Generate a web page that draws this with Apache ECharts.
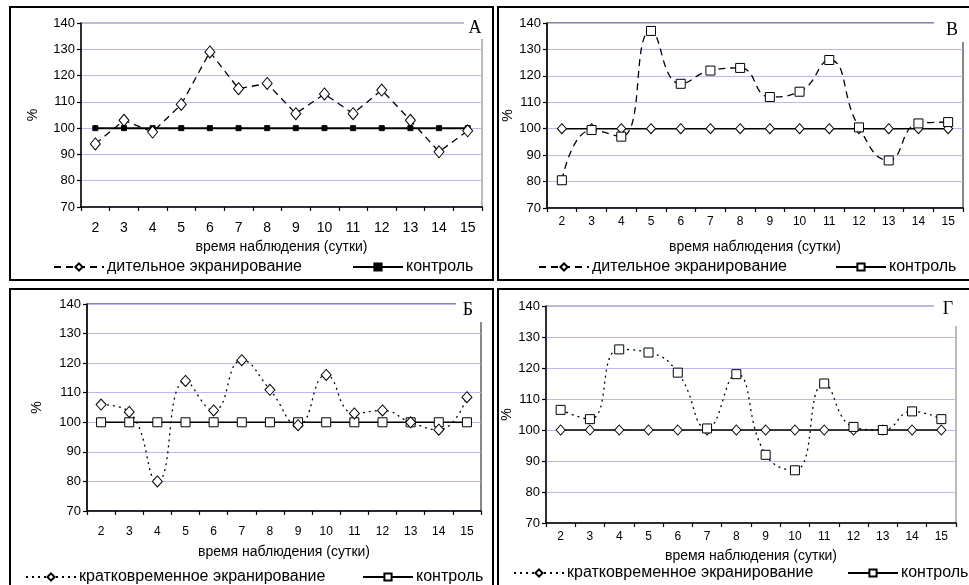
<!DOCTYPE html>
<html>
<head>
<meta charset="utf-8">
<script src="https://cdn.jsdelivr.net/npm/echarts@6/dist/echarts.min.js"></script>
<style>
  html, body { margin: 0; padding: 0; background: #fff; }
  #chart { width: 969px; height: 585px; }
</style>
</head>
<body>
<div id="chart"></div>
<script>
// Observation days (x axis categories)
const days = ['2', '3', '4', '5', '6', '7', '8', '9', '10', '11', '12', '13', '14', '15'];
const yTicks = [70, 80, 90, 100, 110, 120, 130, 140];

// Panel А: long screening vs control, %
const longA = [94, 103, 98.5, 109, 129, 115, 117, 105.5, 113, 105.5, 114.5, 103, 91, 99];
const ctrlA = [100, 100, 100, 100, 100, 100, 100, 100, 100, 100, 100, 100, 100, 100];

// Panel В: long screening vs control, %
const longV = [80.5, 99.5, 97, 137, 117, 122, 123, 112, 114, 126, 100.5, 88, 102, 102.5];
const ctrlV = [100, 100, 100, 100, 100, 100, 100, 100, 100, 100, 100, 100, 100, 100];

// Panel Б: short screening vs control, %
const shortB = [106, 103.5, 80, 114, 104, 121, 111, 99, 116, 103, 104, 100, 97.5, 108.5];
const ctrlB = [100, 100, 100, 100, 100, 100, 100, 100, 100, 100, 100, 100, 100, 100];

// Panel Г: short screening vs control, %
const shortG = [106.5, 103.5, 126, 125, 118.5, 100.5, 118, 92, 87, 115, 101, 100, 106, 103.5];
const ctrlG = [100, 100, 100, 100, 100, 100, 100, 100, 100, 100, 100, 100, 100, 100];

const LONG_TEXT = 'дительное экранирование';
const SHORT_TEXT = 'кратковременное экранирование';
const CTRL_TEXT = 'контроль';
const AXIS_TEXT = 'время наблюдения (сутки)';

const FONT = '"Liberation Sans", Arial, sans-serif';
const GRID_LINE = '#b9b9f2';

// Legend keys -> displayed text
const legendText = {
  A_exp: LONG_TEXT, A_ctl: CTRL_TEXT,
  V_key_exp: LONG_TEXT, V_key_ctl: CTRL_TEXT,
  B_exp: SHORT_TEXT, B_ctl: CTRL_TEXT,
  G_key_exp: SHORT_TEXT, G_key_ctl: CTRL_TEXT
};

const panels = [
  { grid: { left: 81, top: 23, width: 401, height: 184 }, borderColor: '#777',
    xFont: 14, xMargin: 14, xNameGap: 33, yNameGap: 41,
    box: [10, 7, 483, 273], letter: 'А', corner: [464, 14, 22, 25], letterPos: [475, 28] },
  { grid: { left: 547, top: 23, width: 416, height: 185 }, borderColor: '#111',
    xFont: 12, xMargin: 8, xNameGap: 32, yNameGap: 25,
    box: [498, 7, 475, 273], letter: 'В', corner: [934, 14, 32, 28], letterPos: [952, 30] },
  { grid: { left: 87, top: 304, width: 394, height: 207 }, borderColor: '#111',
    xFont: 12, xMargin: 15, xNameGap: 34, yNameGap: 43,
    box: [10, 289, 483, 310], letter: 'Б', corner: [456, 295, 28, 27], letterPos: [468, 310] },
  { grid: { left: 546, top: 306, width: 410, height: 217 }, borderColor: '#777',
    xFont: 12, xMargin: 8, xNameGap: 26, yNameGap: 22,
    box: [498, 289, 475, 310], letter: 'Г', corner: [934, 296, 24, 30], letterPos: [948, 309] }
];

const hollow = { color: '#fff', borderColor: '#000', borderWidth: 1 };
const filled = { color: '#000', borderColor: '#000', borderWidth: 1 };

function lineSeries(name, idx, data, opts) {
  return Object.assign({
    name: name,
    type: 'line',
    xAxisIndex: idx,
    yAxisIndex: idx,
    data: data,
    showSymbol: true,
    animation: false,
    silent: true
  }, opts);
}

const series = [
  // А
  lineSeries('A_ctl', 0, ctrlA, { symbol: 'rect', symbolSize: 5, itemStyle: filled,
    lineStyle: { color: '#000', width: 2 } }),
  lineSeries('A_exp', 0, longA, { symbol: 'diamond', symbolSize: [10, 12], itemStyle: hollow,
    lineStyle: { color: '#000', width: 1.3, type: [7, 5] }, z: 3 }),
  // В
  lineSeries('V_ctl', 1, ctrlV, { symbol: 'diamond', symbolSize: [9, 10], itemStyle: hollow,
    lineStyle: { color: '#000', width: 1.6 } }),
  lineSeries('V_exp', 1, longV, { symbol: 'rect', symbolSize: 9, itemStyle: hollow, smooth: 0.5,
    lineStyle: { color: '#000', width: 1.3, type: [7, 5] }, z: 3 }),
  lineSeries('V_key_exp', 1, [], { symbol: 'diamond', itemStyle: hollow,
    lineStyle: { color: '#000', width: 1.3, type: [7, 5] } }),
  lineSeries('V_key_ctl', 1, [], { symbol: 'rect', itemStyle: hollow,
    lineStyle: { color: '#000', width: 1.6 } }),
  // Б
  lineSeries('B_ctl', 2, ctrlB, { symbol: 'rect', symbolSize: 9, itemStyle: hollow,
    lineStyle: { color: '#000', width: 1.6 } }),
  lineSeries('B_exp', 2, shortB, { symbol: 'diamond', symbolSize: [10, 11], itemStyle: hollow, smooth: 0.5,
    lineStyle: { color: '#000', width: 1.3, type: [2, 4] }, z: 3 }),
  // Г
  lineSeries('G_ctl', 3, ctrlG, { symbol: 'diamond', symbolSize: [9, 10], itemStyle: hollow,
    lineStyle: { color: '#000', width: 1.6 } }),
  lineSeries('G_exp', 3, shortG, { symbol: 'rect', symbolSize: 9, itemStyle: hollow, smooth: 0.5,
    lineStyle: { color: '#000', width: 1.3, type: [2, 4] }, z: 3 }),
  lineSeries('G_key_exp', 3, [], { symbol: 'diamond', itemStyle: hollow,
    lineStyle: { color: '#000', width: 1.3, type: [2, 4] } }),
  lineSeries('G_key_ctl', 3, [], { symbol: 'rect', itemStyle: hollow,
    lineStyle: { color: '#000', width: 1.6 } })
];

function legendItem(key, left, top) {
  return {
    data: [key],
    left: left,
    top: top,
    itemWidth: 50,
    itemHeight: 9,
    padding: 0,
    selectedMode: false,
    formatter: function (n) { return legendText[n]; },
    textStyle: { fontSize: 16, fontFamily: FONT, color: '#000', padding: [0, 0, 0, -2] }
  };
}

const legends = [
  legendItem('A_exp', 53, 259), legendItem('A_ctl', 352, 259),
  legendItem('V_key_exp', 538, 259), legendItem('V_key_ctl', 835, 259),
  legendItem('B_exp', 25, 569), legendItem('B_ctl', 362, 569),
  legendItem('G_key_exp', 513, 565), legendItem('G_key_ctl', 847, 565)
];

const grids = panels.map(p => Object.assign({
  show: true, borderColor: p.borderColor, borderWidth: 1, backgroundColor: 'transparent'
}, p.grid));

const xAxes = panels.map((p, i) => ({
  type: 'category',
  gridIndex: i,
  data: days,
  boundaryGap: true,
  axisLine: { lineStyle: { color: '#000', width: 1.5 } },
  axisTick: { show: true, length: 4, lineStyle: { color: '#000', width: 1.2 } },
  axisLabel: { margin: p.xMargin, fontSize: p.xFont, color: '#000', fontFamily: FONT, interval: 0 },
  name: AXIS_TEXT,
  nameLocation: 'middle',
  nameGap: p.xNameGap,
  nameTextStyle: { fontSize: 14, color: '#000', fontFamily: FONT }
}));

const yAxes = panels.map((p, i) => ({
  type: 'value',
  gridIndex: i,
  min: yTicks[0],
  max: yTicks[yTicks.length - 1],
  interval: yTicks[1] - yTicks[0],
  axisLine: { show: true, lineStyle: { color: '#000', width: 1.5 } },
  axisTick: { show: true, length: 4, lineStyle: { color: '#000', width: 1.2 } },
  axisLabel: { margin: 6, fontSize: 13, color: '#000', fontFamily: FONT },
  splitLine: { show: true, lineStyle: { color: GRID_LINE, width: 1 } },
  name: '%',
  nameLocation: 'middle',
  nameRotate: 90,
  nameGap: p.yNameGap,
  nameTextStyle: { fontSize: 14, color: '#000', fontFamily: FONT }
}));

// Panel frames and the corner letters
const graphics = [];
panels.forEach(p => {
  graphics.push({
    type: 'rect', z: 0, silent: true,
    shape: { x: p.box[0], y: p.box[1], width: p.box[2], height: p.box[3] },
    style: { fill: 'none', stroke: '#000', lineWidth: 2 }
  });
  graphics.push({
    type: 'rect', z: 50, silent: true,
    shape: { x: p.corner[0], y: p.corner[1], width: p.corner[2], height: p.corner[3] },
    style: { fill: '#fff' }
  });
  graphics.push({
    type: 'text', z: 51, silent: true,
    x: p.letterPos[0], y: p.letterPos[1],
    style: { text: p.letter, fontSize: 18, fontFamily: '"Liberation Serif", "Times New Roman", serif',
      fill: '#000', align: 'center', verticalAlign: 'middle' }
  });
});

const chart = echarts.init(document.getElementById('chart'), null, { renderer: 'canvas' });
chart.setOption({
  animation: false,
  backgroundColor: '#fff',
  grid: grids,
  xAxis: xAxes,
  yAxis: yAxes,
  legend: legends,
  series: series,
  graphic: graphics
});
</script>
</body>
</html>
